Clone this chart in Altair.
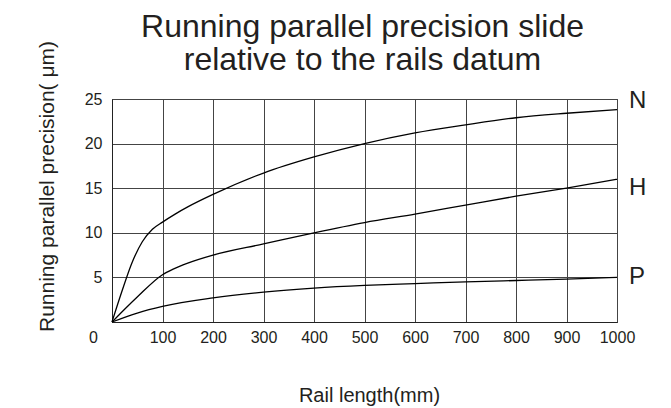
import altair as alt
import pandas as pd

# ---- data ----
n_x = [0, 20, 40, 60, 80, 100, 125, 150, 200, 300, 400, 500, 600, 700, 800, 900, 1000]
n_y = [0, 3.5, 6.7, 9.0, 10.4, 11.2, 12.1, 12.9, 14.3, 16.7, 18.5, 20.0, 21.2, 22.1, 22.9, 23.4, 23.8]

h_x = [0, 50, 100, 120, 150, 200, 300, 400, 500, 600, 700, 800, 900, 1000]
h_y = [0, 2.8, 5.3, 5.9, 6.6, 7.5, 8.75, 10.0, 11.15, 12.1, 13.1, 14.1, 15.0, 16.0]

p_x = [0, 50, 100, 200, 300, 400, 500, 600, 700, 800, 900, 1000]
p_y = [0, 1.0, 1.75, 2.7, 3.35, 3.8, 4.1, 4.3, 4.5, 4.65, 4.8, 5.0]

grades = ["N", "H", "P"]
label_x = [1000, 1000, 1000]
label_y = [24.8, 15.0, 5.1]

x_ticks = [0, 100, 200, 300, 400, 500, 600, 700, 800, 900, 1000]
y_ticks = [0, 5, 10, 15, 20, 25]

title_lines = ["Running parallel precision slide", "relative to the rails datum"]
x_title = "Rail length(mm)"
y_title = "Running parallel precision( \u03bcm)"

FONT = "Liberation Sans"
INK = "#231f20"

rows = []
for g, xs, ys in (("N", n_x, n_y), ("H", h_x, h_y), ("P", p_x, p_y)):
    for i, (a, b) in enumerate(zip(xs, ys)):
        rows.append({"grade": g, "x": a, "y": b, "order": i})
df = pd.DataFrame(rows)
labels = pd.DataFrame({"grade": grades, "x": label_x, "y": label_y})

xscale = alt.Scale(domain=[0, 1000], nice=False, zero=False)
yscale = alt.Scale(domain=[0, 25], nice=False, zero=False)

xaxis = alt.Axis(
    values=x_ticks, title=x_title, grid=True, ticks=False, format="d",
    labelPadding=7, labelOverlap=False, labelFlush=False,
    labelOffset={"condition": {"test": "datum.value === 0", "value": -19}, "value": 0},
    titlePadding=40, titleX=257,
)
yaxis = alt.Axis(
    values=y_ticks, title=y_title, grid=True, ticks=False,
    labelPadding=10, labelOverlap=False, labelFlush=False,
    labelExpr="datum.value === 0 ? '' : datum.label",
    titlePadding=27, titleY=87, titleFontSize=21,
)

lines = alt.Chart(df).mark_line(color="black", strokeWidth=1.3, interpolate="monotone").encode(
    x=alt.X("x:Q", scale=xscale, axis=xaxis),
    y=alt.Y("y:Q", scale=yscale, axis=yaxis),
    detail="grade:N",
    order="order:Q",
)

text = alt.Chart(labels).mark_text(
    align="left", baseline="middle", dx=12, fontSize=24, font=FONT, color=INK
).encode(
    x=alt.X("x:Q", scale=xscale),
    y=alt.Y("y:Q", scale=yscale),
    text="grade:N",
)

chart = alt.layer(lines, text).properties(
    width=505,
    height=223,
    autosize=alt.AutoSizeParams(type="none"),
    padding={"left": 104, "top": 91, "right": 46, "bottom": 86},
    title=alt.TitleParams(
        text=title_lines, fontSize=32, font=FONT, color=INK, fontWeight="normal",
        anchor="middle", lineHeight=33, offset=12, dx=-2, dy=49,
    ),
).configure_view(
    stroke="#333", strokeWidth=1
).configure_axis(
    gridColor="#444", gridWidth=1, gridOpacity=1,
    domainColor="#222", domainWidth=1,
    labelFont=FONT, labelFontSize=16, labelColor=INK,
    titleFont=FONT, titleFontSize=20, titleColor=INK, titleFontWeight="normal",
)

chart.save("out.html", embed_options={"renderer": "svg", "actions": False})
